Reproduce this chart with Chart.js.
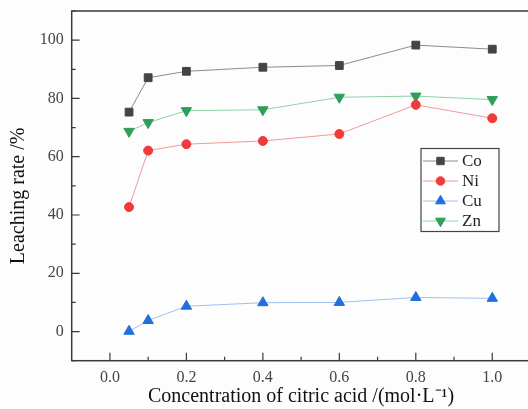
<!DOCTYPE html>
<html>
<head>
<meta charset="utf-8">
<script src="https://cdn.jsdelivr.net/npm/chart.js@4/dist/chart.umd.min.js"></script>
<style>
html,body{margin:0;padding:0;background:#fdfdfd;overflow:hidden;}
#wrap{width:540px;height:409px;}
</style>
</head>
<body>
<div id="wrap"><canvas id="c" width="540" height="409"></canvas></div>
<script>
const concentrations = [0.05, 0.1, 0.2, 0.4, 0.6, 0.8, 1.0];
const coRate = [75.3, 87.1, 89.3, 90.7, 91.3, 98.3, 96.9];
const niRate = [42.7, 62.1, 64.3, 65.4, 67.8, 77.8, 73.2];
const cuRate = [0.1, 3.8, 8.7, 9.9, 10.0, 11.7, 11.4];
const znRate = [68.7, 71.7, 75.8, 76.1, 80.4, 80.8, 79.6];
const xTickLabels = [0.0, 0.2, 0.4, 0.6, 0.8, 1.0];
const yTickLabels = [0, 20, 40, 60, 80, 100];
const xMinorTicks = [0.1, 0.3, 0.5, 0.7, 0.9];
const yMinorTicks = [-10, 10, 30, 50, 70, 90, 110];

const toPts = arr => concentrations.map((x, i) => ({x: x, y: arr[i]}));

function ds(label, data, line, fill, style, radius, rotation) {
  return {
    label: label, data: toPts(data), borderColor: line, borderWidth: 1,
    backgroundColor: fill, pointBackgroundColor: fill, pointBorderColor: fill,
    pointBorderWidth: 1, pointStyle: style, pointRadius: radius, pointRotation: rotation,
    tension: 0, fill: false
  };
}

const datasets = [
  ds('Co', coRate, '#8c8c8c', '#444444', 'rect', 5.5, 0),
  ds('Ni', niRate, '#f29a9a', '#ef3b3b', 'circle', 4.5, 0),
  ds('Cu', cuRate, '#9fc0ee', '#1f6fde', 'triangle', 6, 0),
  ds('Zn', znRate, '#8fd0a8', '#2e9e5a', 'triangle', 6, 180)
];

const frameAndTicks = {
  id: 'frameAndTicks',
  afterDraw(chart) {
    const ctx = chart.ctx, a = chart.chartArea;
    const xs = chart.scales.x, ys = chart.scales.y;
    ctx.save();
    ctx.strokeStyle = '#3a3a3a';
    ctx.lineWidth = 1.5;
    ctx.strokeRect(a.left, a.top, a.right - a.left, a.bottom - a.top);
    ctx.lineWidth = 1.2;
    ctx.beginPath();
    xTickLabels.forEach(v => { const p = xs.getPixelForValue(v); ctx.moveTo(p, a.bottom); ctx.lineTo(p, a.bottom - 8); });
    xMinorTicks.forEach(v => { const p = xs.getPixelForValue(v); ctx.moveTo(p, a.bottom); ctx.lineTo(p, a.bottom - 4); });
    yTickLabels.forEach(v => { const p = ys.getPixelForValue(v); ctx.moveTo(a.left, p); ctx.lineTo(a.left + 8, p); });
    yMinorTicks.forEach(v => { const p = ys.getPixelForValue(v); ctx.moveTo(a.left, p); ctx.lineTo(a.left + 4, p); });
    ctx.stroke();

    // legend box
    const bx = 421, by = 148.5, bw = 78, bh = 83;
    ctx.lineWidth = 1.2;
    ctx.strokeStyle = '#444';
    ctx.fillStyle = '#ffffff';
    ctx.fillRect(bx, by, bw, bh);
    ctx.strokeRect(bx, by, bw, bh);
    chart.data.datasets.forEach((d, i) => {
      const y = by + 12.5 + i * 20;
      ctx.strokeStyle = d.borderColor;
      ctx.lineWidth = 1;
      ctx.beginPath(); ctx.moveTo(bx + 2, y); ctx.lineTo(bx + 37, y); ctx.stroke();
      ctx.fillStyle = d.pointBackgroundColor;
      ctx.strokeStyle = d.pointBorderColor;
      Chart.helpers.drawPoint(ctx, {pointStyle: d.pointStyle, radius: d.pointRadius * 0.95, rotation: d.pointRotation, borderWidth: 1}, bx + 19.5, y);
      ctx.fillStyle = '#222';
      ctx.font = '17px "Liberation Serif", "Times New Roman", serif';
      ctx.textBaseline = 'middle';
      ctx.textAlign = 'left';
      ctx.fillText(d.label, bx + 41, y + 1);
    });
    ctx.restore();
  }
};

new Chart(document.getElementById('c'), {
  type: 'line',
  data: { datasets: datasets },
  options: {
    responsive: false,
    animation: false,
    layout: { padding: { top: 11, right: 9.5, left: 0, bottom: 0 } },
    plugins: { legend: { display: false }, tooltip: { enabled: false } },
    scales: {
      x: {
        type: 'linear', min: -0.1, max: 1.1,
        afterBuildTicks: s => { s.ticks = xTickLabels.map(v => ({value: v})); },
        afterFit: s => { s.height = 48.3; s.paddingLeft = 0; s.paddingRight = 0; },
        grid: { display: true, drawOnChartArea: false, drawTicks: false },
        border: { display: false },
        ticks: {
          padding: 7, color: '#444',
          font: { family: '"Liberation Serif", "Times New Roman", serif', size: 16 },
          callback: v => Number(v).toFixed(1)
        },
        title: {
          display: true, text: 'Concentration of citric acid /(mol·L⁻¹)',
          color: '#111', padding: { top: 0, bottom: 0 },
          font: { family: '"Liberation Serif", "Times New Roman", serif', size: 20 }
        }
      },
      y: {
        min: -10, max: 110,
        afterBuildTicks: s => { s.ticks = yTickLabels.map(v => ({value: v})); },
        afterFit: s => { s.width = 71.7; s.paddingTop = 0; s.paddingBottom = 0; },
        grid: { display: true, drawOnChartArea: false, drawTicks: false },
        border: { display: false },
        ticks: {
          padding: 8, color: '#444',
          font: { family: '"Liberation Serif", "Times New Roman", serif', size: 16 }
        },
        title: {
          display: true, text: 'Leaching rate /%\u2002\u2002',
          color: '#111', padding: { top: 7, bottom: 0 },
          font: { family: '"Liberation Serif", "Times New Roman", serif', size: 20 }
        }
      }
    }
  },
  plugins: [frameAndTicks]
});
</script>
</body>
</html>
